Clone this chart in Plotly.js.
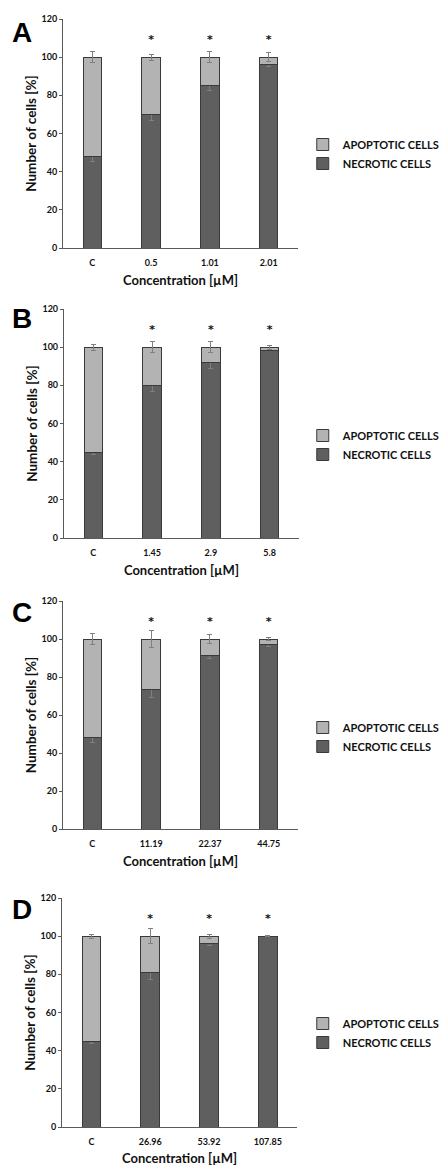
<!DOCTYPE html>
<html>
<head>
<meta charset="utf-8">
<script src="https://cdn.plot.ly/plotly-3.0.1.min.js"></script>
<style>html,body{margin:0;padding:0;background:#fff;}#chart{width:445px;height:1166px;}</style>
</head>
<body>
<div id="chart"></div>
<script>
// ---- Data ----
const panelLabels = ["A", "B", "C", "D"];
const catsA = ["C", "0.5", "1.01", "2.01"];
const catsB = ["C", "1.45", "2.9", "5.8"];
const catsC = ["C", "11.19", "22.37", "44.75"];
const catsD = ["C", "26.96", "53.92", "107.85"];

const necroticA = [48, 70, 85, 96];
const apoptoticA = [52, 30, 15, 4];
const necroticErrA = [2.8, 3, 2.5, 1];
const apoptoticErrA = [3, 1.5, 3, 2.5];
const sigA = [false, true, true, true];

const necroticB = [45, 80, 92, 98.5];
const apoptoticB = [55, 20, 8, 1.5];
const necroticErrB = [1, 3, 3, 0.5];
const apoptoticErrB = [1.5, 3, 3, 1];
const sigB = [false, true, true, true];

const necroticC = [48, 73.5, 91.5, 97];
const apoptoticC = [52, 26.5, 8.5, 3];
const necroticErrC = [2.5, 4.5, 2, 1];
const apoptoticErrC = [3, 4.5, 2.5, 1];
const sigC = [false, true, true, true];

const necroticD = [45, 81, 96, 99.8];
const apoptoticD = [55, 19, 4, 0.2];
const necroticErrD = [1, 3.5, 1, 0.2];
const apoptoticErrD = [1, 4, 1, 0.2];
const sigD = [false, true, true, true];

const sigLevel = 109;
const yTicks = [0, 20, 40, 60, 80, 100, 120];

// ---- Build ----
const panels = [
  {cats: catsA, nec: necroticA, apo: apoptoticA, ne: necroticErrA, ae: apoptoticErrA, sig: sigA},
  {cats: catsB, nec: necroticB, apo: apoptoticB, ne: necroticErrB, ae: apoptoticErrB, sig: sigB},
  {cats: catsC, nec: necroticC, apo: apoptoticC, ne: necroticErrC, ae: apoptoticErrC, sig: sigC},
  {cats: catsD, nec: necroticD, apo: apoptoticD, ne: necroticErrD, ae: apoptoticErrD, sig: sigD}
];

const H = 1166, W = 445;
// pixel geometry of each panel: [left, right, top, bottom]
const geom = [
  [68, 322, 19, 248],
  [69, 323, 309, 538],
  [68, 322, 601, 829],
  [67, 321, 898, 1127]
];
const legendY = [154, 445, 737, 1033];
const letterY = [33, 318, 612, 910];

const FONT = "Lato, 'Open Sans', 'DejaVu Sans', sans-serif";
const axisColor = "#5a5a5a";
const necColor = "#5f5f5f";
const apoColor = "#b3b3b3";
const barLine = {color: "#3a3a3a", width: 1};
const errStyle = {color: "#808080", thickness: 1, width: 2.5};

const traces = [];
const layout = {
  width: W, height: H,
  margin: {l: 0, r: 0, t: 0, b: 0},
  paper_bgcolor: "#fff", plot_bgcolor: "#fff",
  barmode: "stack",
  bargap: 0.685,
  showlegend: true,
  font: {family: FONT, color: "#1a1a1a"},
  annotations: []
};

panels.forEach((p, i) => {
  const n = i === 0 ? "" : String(i + 1);
  const xa = "x" + n, ya = "y" + n;
  const leg = "legend" + n;
  const g = geom[i];

  traces.push({
    type: "bar", x: p.cats, y: p.nec, name: "NECROTIC CELLS",
    xaxis: xa, yaxis: ya, legend: leg,
    marker: {color: necColor, line: barLine},
    error_y: Object.assign({type: "data", array: p.ne, visible: true}, errStyle),
    hoverinfo: "x+y+name"
  });
  traces.push({
    type: "bar", x: p.cats, y: p.apo, name: "APOPTOTIC CELLS",
    xaxis: xa, yaxis: ya, legend: leg,
    marker: {color: apoColor, line: barLine},
    error_y: Object.assign({type: "data", array: p.ae, visible: true}, errStyle),
    hoverinfo: "x+y+name"
  });
  traces.push({
    type: "scatter", mode: "text",
    x: p.cats.filter((c, k) => p.sig[k]),
    y: p.cats.filter((c, k) => p.sig[k]).map(() => sigLevel),
    text: p.cats.filter((c, k) => p.sig[k]).map(() => "*"),
    textfont: {size: 11, color: "#111", family: "'DejaVu Sans', sans-serif", weight: "bold"},
    textposition: "middle center",
    xaxis: xa, yaxis: ya, showlegend: false, hoverinfo: "skip"
  });

  layout["xaxis" + n] = {
    domain: [g[0] / W, g[1] / W],
    anchor: ya,
    type: "category",
    showline: true, linecolor: axisColor, linewidth: 1,
    ticks: "outside", ticklen: 6, tickcolor: "rgba(0,0,0,0)",
    showgrid: false, zeroline: false,
    tickfont: {size: 9, family: FONT, color: "#111", weight: "bold"},
    title: {text: "Concentration [µM]", font: {size: 13, family: FONT, color: "#111", weight: "bold"}, standoff: 9},
    fixedrange: true
  };
  layout["yaxis" + n] = {
    domain: [1 - g[3] / H, 1 - g[2] / H],
    anchor: xa,
    range: [0, 120],
    tickvals: yTicks,
    showline: true, linecolor: axisColor, linewidth: 1,
    ticks: "outside", ticklen: 3, tickcolor: axisColor,
    showgrid: false, zeroline: false,
    tickfont: {size: 9, family: FONT, color: "#111", weight: "bold"},
    title: {text: "Number of cells [%]", font: {size: 13.5, family: FONT, color: "#111", weight: "bold"}, standoff: 1},
    fixedrange: true
  };
  layout[leg] = {
    x: 327 / W, xanchor: "left",
    y: 1 - legendY[i] / H, yanchor: "middle",
    traceorder: "reversed",
    font: {size: 11, family: FONT, color: "#111", weight: "bold"},
    itemwidth: 30, tracegroupgap: 0,
    bgcolor: "rgba(0,0,0,0)"
  };
  layout.annotations.push({
    xref: "paper", yref: "paper",
    x: 24 / W, y: 1 - letterY[i] / H,
    xanchor: "center", yanchor: "middle",
    text: "<b>" + panelLabels[i] + "</b>",
    showarrow: false,
    font: {size: 28, family: "'Liberation Sans', Arial, sans-serif", color: "#000"}
  });
});

Plotly.newPlot("chart", traces, layout, {displayModeBar: false, staticPlot: true});
</script>
</body>
</html>
